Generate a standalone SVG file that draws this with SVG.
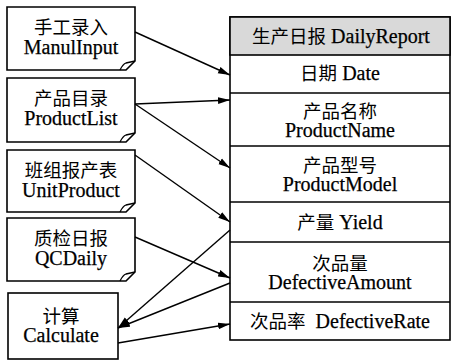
<svg xmlns="http://www.w3.org/2000/svg" width="456" height="361" viewBox="0 0 456 361">
  <style>
    .box { fill: #ffffff; stroke: #000000; stroke-width: 1.6; }
    .fold { fill: none; stroke: #000000; stroke-width: 1.3; }
    .head { fill: #d9d9d9; stroke: #000000; stroke-width: 1.6; }
    .sep { stroke: #000000; stroke-width: 1.6; }
    .edge { fill: none; stroke: #000000; stroke-width: 1.4; marker-end: url(#arrow); }
    text { fill: #000000; text-anchor: middle; }
    .zh { font-family: "Noto Sans CJK SC", sans-serif; font-size: 18.5px; }
    .en { font-family: "Liberation Serif", "Times New Roman", serif; font-size: 20px; stroke: #000000; stroke-width: 0.25; }
  </style>
  <defs>
    <marker id="arrow" markerUnits="userSpaceOnUse" markerWidth="12" markerHeight="8" refX="12" refY="4" orient="auto">
      <path d="M0,0.6 L12,4 L0,7.4 Z" fill="#000000"/>
    </marker>
  </defs>

  <!-- source documents (folded-corner note shapes) -->
  <g id="manual-input">
    <path class="box" d="M7,7 H135 V61 L126,70 H7 Z"/>
    <path class="fold" d="M120,70 Q123,64 126,63 L135,61"/>
    <text x="71" y="34"><tspan class="zh">手工录入</tspan><tspan class="en" x="71" dy="20">ManulInput</tspan></text>
  </g>
  <g id="product-list">
    <path class="box" d="M7,78 H135 V133 L126,142 H7 Z"/>
    <path class="fold" d="M120,142 Q123,136 126,135 L135,133"/>
    <text x="71" y="105"><tspan class="zh">产品目录</tspan><tspan class="en" x="71" dy="20">ProductList</tspan></text>
  </g>
  <g id="unit-product">
    <path class="box" d="M7,150 H135 V203 L126,212 H7 Z"/>
    <path class="fold" d="M120,212 Q123,206 126,205 L135,203"/>
    <text x="71" y="177"><tspan class="zh">班组报产表</tspan><tspan class="en" x="71" dy="20">UnitProduct</tspan></text>
  </g>
  <g id="qc-daily">
    <path class="box" d="M7,218 H135 V272 L126,281 H7 Z"/>
    <path class="fold" d="M120,281 Q123,275 126,274 L135,272"/>
    <text x="71" y="245"><tspan class="zh">质检日报</tspan><tspan class="en" x="71" dy="20">QCDaily</tspan></text>
  </g>
  <g id="calculate">
    <rect class="box" x="8" y="293" width="110" height="66"/>
    <text x="61" y="323"><tspan class="zh">计算</tspan><tspan class="en" x="61" dy="19">Calculate</tspan></text>
  </g>

  <!-- daily report table -->
  <g id="daily-report">
    <rect class="box" x="230" y="17" width="220" height="323"/>
    <rect class="head" x="230" y="17" width="220" height="38"/>
    <line class="sep" x1="230" y1="93" x2="450" y2="93"/>
    <line class="sep" x1="230" y1="146" x2="450" y2="146"/>
    <line class="sep" x1="230" y1="202" x2="450" y2="202"/>
    <line class="sep" x1="230" y1="242" x2="450" y2="242"/>
    <line class="sep" x1="230" y1="302" x2="450" y2="302"/>
    <text x="341" y="43"><tspan class="zh">生产日报</tspan><tspan class="en"> DailyReport</tspan></text>
    <text x="340" y="80"><tspan class="zh">日期</tspan><tspan class="en"> Date</tspan></text>
    <text x="340" y="118"><tspan class="zh">产品名称</tspan><tspan class="en" x="340" dy="19">ProductName</tspan></text>
    <text x="340" y="172"><tspan class="zh">产品型号</tspan><tspan class="en" x="340" dy="19">ProductModel</tspan></text>
    <text x="340" y="229"><tspan class="zh">产量</tspan><tspan class="en"> Yield</tspan></text>
    <text x="340" y="270"><tspan class="zh">次品量</tspan><tspan class="en" x="340" dy="19">DefectiveAmount</tspan></text>
    <text x="340" y="328" xml:space="preserve"><tspan class="zh">次品率</tspan><tspan class="en">  DefectiveRate</tspan></text>
  </g>

  <!-- connectors -->
  <g id="connectors">
    <line class="edge" x1="135" y1="32" x2="230" y2="75"/>
    <line class="edge" x1="135" y1="104" x2="230" y2="100"/>
    <line class="edge" x1="135" y1="104" x2="230" y2="168"/>
    <line class="edge" x1="135" y1="155" x2="230" y2="222"/>
    <line class="edge" x1="135" y1="237" x2="230" y2="278"/>
    <line class="edge" x1="230" y1="230" x2="118" y2="328"/>
    <line class="edge" x1="230" y1="283" x2="118" y2="328"/>
    <line class="edge" x1="118" y1="343" x2="230" y2="324"/>
  </g>
</svg>
